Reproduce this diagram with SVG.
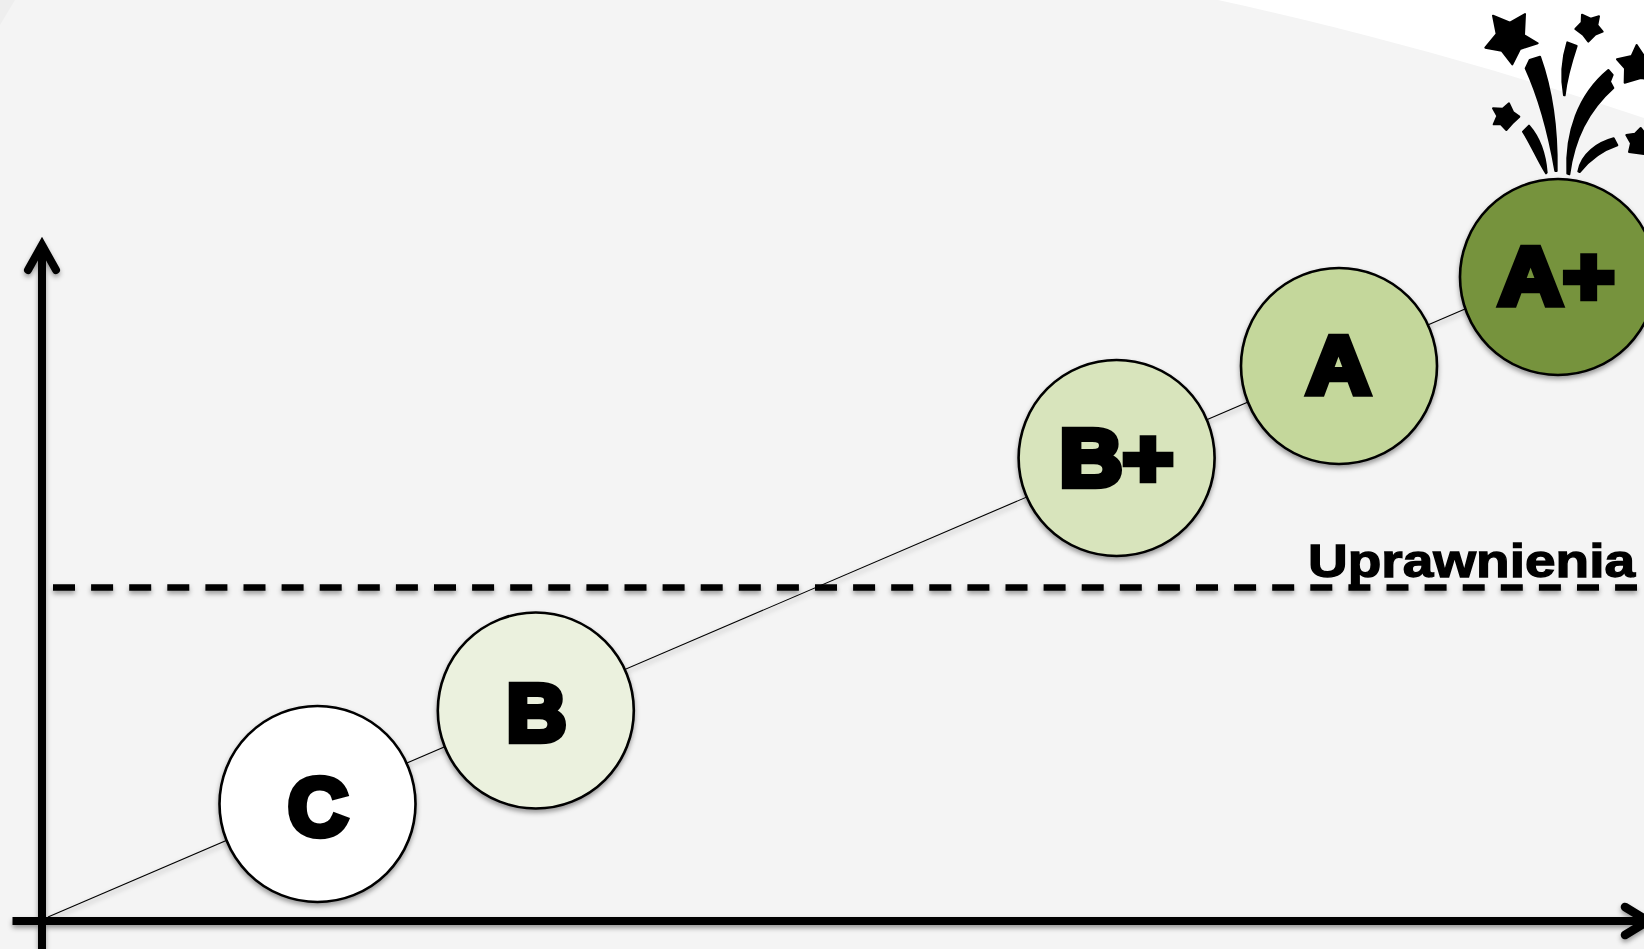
<svg xmlns="http://www.w3.org/2000/svg" width="1644" height="949" viewBox="0 0 1644 949">
<style>
.grade{font-family:"Liberation Sans",Arial,sans-serif;font-weight:700;font-size:81px;text-anchor:middle;fill:#000;stroke:#000;stroke-width:6.5;stroke-linejoin:miter}
.node{stroke:#000;stroke-width:2.6;filter:url(#sh)}
.axis{fill:none;stroke:#000;stroke-width:8;stroke-linecap:butt}
.fw{fill:#000;stroke:#000;stroke-width:6;stroke-linejoin:round}
</style>
<defs>
<filter id="sh" x="-10%" y="-10%" width="120%" height="125%"><feDropShadow dx="0" dy="3" stdDeviation="2.5" flood-color="#000" flood-opacity="0.38"/></filter>
<filter id="shl" filterUnits="userSpaceOnUse" x="0" y="0" width="1644" height="949"><feDropShadow dx="0" dy="3" stdDeviation="2.5" flood-color="#000" flood-opacity="0.38"/></filter>
</defs>
<rect width="1644" height="949" fill="#f4f4f4"/>
<path d="M1218 0C1367 33 1500 70 1644 118V0Z" fill="#fff"/>
<path d="M0 0H15L0 25Z" fill="#eeeeee"/>
<g id="connectors" filter="url(#shl)">
<path d="M48 917L1465 309" fill="none" stroke="#000" stroke-width="1.1"/>
<path class="axis" d="M42 949V250"/>
<path d="M28 270L42 245L56 270" fill="none" stroke="#000" stroke-width="8" stroke-linecap="round" stroke-linejoin="miter"/>
<path class="axis" d="M12.500 921H1644"/>
<path d="M1625 907L1648 921L1625 935" fill="none" stroke="#000" stroke-width="8.500" stroke-linecap="round" stroke-linejoin="miter"/>
<path d="M53 587.500H1637" fill="none" stroke="#000" stroke-width="6.500" stroke-dasharray="22 16.100"/>
</g>
<g id="node-c"><circle class="node" cx="317.500" cy="804" r="98" fill="#fff"/><text class="grade" x="318" y="835" textLength="60" lengthAdjust="spacingAndGlyphs">C</text></g>
<g id="node-b"><circle class="node" cx="535.800" cy="710.500" r="98" fill="#ebf1de"/><text class="grade" x="536.500" y="741" textLength="60" lengthAdjust="spacingAndGlyphs">B</text></g>
<g id="node-bplus"><circle class="node" cx="1116.600" cy="458" r="98" fill="#d8e4bc"/><text class="grade" x="1116.500" y="486" textLength="114" lengthAdjust="spacingAndGlyphs">B+</text></g>
<g id="node-a"><circle class="node" cx="1339" cy="366" r="98" fill="#c4d79b"/><text class="grade" x="1338.500" y="393" textLength="64" lengthAdjust="spacingAndGlyphs">A</text></g>
<g id="node-aplus"><circle class="node" cx="1558" cy="277" r="98" fill="#76933c"/><text class="grade" x="1556.500" y="304" textLength="116" lengthAdjust="spacingAndGlyphs">A+</text></g>
<text id="label-uprawnienia" x="1308" y="576.500" font-family="'Liberation Sans',Arial,sans-serif" font-weight="700" font-size="47" textLength="327" lengthAdjust="spacingAndGlyphs" stroke="#000" stroke-width="1.3" fill="#000">Uprawnienia</text>
<g id="fireworks" transform="translate(1444 0) scale(0.33333)">
<path class="fw" d="M147 47L198 68L243 42L240 105L281 130L228 147L205 193L173 152L124 143L158 102Z"/>
<path class="fw" d="M414 44L440 56L465 49L460 75L476 95L454 104L433 125L417 104L394 87L413 67Z"/>
<path class="fw" d="M578 135L600 168L640 165L640 240L590 234L542 248L543 205L519 178L563 168Z"/>
<path class="fw" d="M195 310L207 336L226 350L205 370L187 390L170 372L149 373L160 348L147 325L176 326Z"/>
<path class="fw" d="M590 384L607 405L640 400L640 470L600 462L555 456L561 430L547 405L573 401Z"/>
<path class="fw" d="M245 205L257 180L288 170C322 265 340 390 338 513L334 513C314 400 284 290 245 205Z"/>
<path class="fw" d="M370 127L398 138C384 180 368 230 362 286L360 286C350 230 355 175 370 127Z"/>
<path class="fw" d="M493 210L506 225L498 245L508 264C445 320 392 400 376 523L370 521C364 400 402 285 493 210Z"/>
<path class="fw" d="M237 395L255 377C288 415 304 465 308 518L306 520C280 478 260 430 237 395Z"/>
<path class="fw" d="M403 514C412 462 460 428 509 415L520 436C478 450 438 478 407 516Z"/>
</g>
</svg>
